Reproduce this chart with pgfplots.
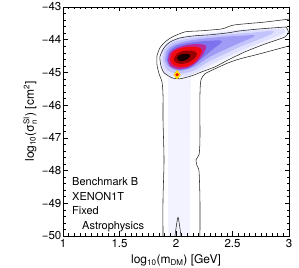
\documentclass[border=0pt]{standalone}
\usepackage{amsmath}
\usepackage{fontspec}
\setmainfont{TeX Gyre Heros}
\usepackage{pgfplots}
\pgfplotsset{compat=1.18}
\definecolor{c0}{RGB}{243,243,255}
\definecolor{c1}{RGB}{224,224,255}
\definecolor{c2}{RGB}{196,196,252}
\definecolor{c3}{RGB}{160,156,246}
\definecolor{c4}{RGB}{126,114,238}
\definecolor{c5}{RGB}{190,40,150}
\definecolor{c6}{RGB}{240,10,15}
\definecolor{c7}{RGB}{150,0,0}
\definecolor{c8}{RGB}{25,0,0}
\begin{document}
\begin{tikzpicture}
\begin{axis}[name=ax, scale only axis, width=226pt, height=229pt,
  xmin=1, xmax=3, ymin=-50, ymax=-43, axis on top,
  xtick={1,1.5,2,2.5,3}, xticklabels={1,1.5,2,2.5,3},
  ytick={-50,-49,-48,-47,-46,-45,-44,-43},
  yticklabels={−50,−49,−48,−47,−46,−45,−44,−43},
  minor x tick num=9, minor y tick num=4,
  tick align=inside, major tick length=4.5pt, minor tick length=2.5pt,
  tick style={black, line width=0.5pt},
  axis line style={line width=0.6pt},
  ticklabel style={font=\fontsize{11.5}{13}\selectfont},
  yticklabel style={inner sep=1.5pt},
  label style={font=\fontsize{12}{14}\selectfont},
  xlabel={log$_{\text{10}}$(m$_{\text{DM}}$) [GeV]},
  ylabel={log$_{\text{10}}$(σ$^{\text{SI}}_{\text{n}}$) [cm$^{\text{2}}$]},
]
% density layers
\addplot[draw=none, fill=c0, smooth, tension=0.4] coordinates {
(1.929,-50) (1.929,-45.29) (1.894,-45.13) (1.858,-44.68) (1.867,-44.31) (1.929,-44.04) (2.080,-43.88) (2.389,-43.73) (2.743,-43.64) (2.956,-43.61) (2.991,-43.73) (2.965,-43.915) (2.743,-44.19) (2.434,-44.62) (2.212,-45.01) (2.133,-45.23) (2.124,-50)} -- cycle;
\addplot[draw=none, fill=c1, smooth, tension=0.5] coordinates {
(1.867,-44.62) (1.885,-44.28) (1.947,-44.07) (2.080,-43.915) (2.389,-43.79) (2.743,-43.70) (2.938,-43.67) (2.965,-43.76) (2.903,-43.88) (2.611,-44.28) (2.319,-44.74) (2.159,-45.04) (2.018,-45.13) (1.903,-45.01) (1.867,-44.62)} -- cycle;
\addplot[draw=none, fill=c2, smooth, tension=0.5] coordinates {
(1.885,-44.62) (1.903,-44.31) (1.965,-44.10) (2.088,-43.98) (2.319,-43.88) (2.655,-43.79) (2.850,-43.73) (2.832,-43.85) (2.566,-44.22) (2.301,-44.65) (2.150,-44.95) (2.018,-45.04) (1.920,-44.92) (1.885,-44.62)} -- cycle;
\addplot[draw=none, fill=c3, smooth, tension=0.5] coordinates {
(1.903,-44.62) (1.920,-44.34) (1.982,-44.16) (2.097,-44.04) (2.301,-43.945) (2.566,-43.88) (2.699,-43.88) (2.522,-44.16) (2.301,-44.52) (2.159,-44.83) (2.027,-44.95) (1.938,-44.83) (1.903,-44.62)} -- cycle;
\addplot[draw=none, fill=c4, smooth, tension=0.5] coordinates {
(1.920,-44.62) (1.938,-44.37) (2.000,-44.19) (2.106,-44.10) (2.257,-44.04) (2.407,-44.04) (2.319,-44.31) (2.212,-44.62) (2.124,-44.86) (2.018,-44.92) (1.947,-44.80) (1.920,-44.62)} -- cycle;
\addplot[draw=none, fill=c5, smooth, tension=0.5] coordinates {
(1.929,-44.62) (1.947,-44.40) (2.009,-44.25) (2.097,-44.16) (2.204,-44.13) (2.265,-44.19) (2.248,-44.40) (2.186,-44.68) (2.097,-44.86) (2.009,-44.89) (1.947,-44.80) (1.929,-44.62)} -- cycle;
\addplot[draw=none, fill=c6, smooth, tension=0.5] coordinates {
(1.947,-44.62) (1.965,-44.40) (2.018,-44.28) (2.097,-44.22) (2.186,-44.22) (2.230,-44.31) (2.212,-44.49) (2.159,-44.71) (2.088,-44.83) (2.009,-44.83) (1.965,-44.74) (1.947,-44.62)} -- cycle;
\addplot[draw=none, fill=c7, smooth, tension=0.5] coordinates {
(1.982,-44.585) (2.009,-44.43) (2.071,-44.34) (2.150,-44.34) (2.186,-44.43) (2.159,-44.585) (2.097,-44.71) (2.035,-44.74) (1.991,-44.68) (1.982,-44.585)} -- cycle;
\addplot[draw=none, fill=c8, smooth, tension=0.5] coordinates {
(2.009,-44.555) (2.035,-44.46) (2.088,-44.43) (2.124,-44.46) (2.115,-44.555) (2.071,-44.646) (2.027,-44.646) (2.009,-44.555)} -- cycle;
% contours
\addplot[black!85, line width=0.55pt, smooth, tension=0.4] coordinates {
(1.885,-50) (1.885,-48.88) (1.894,-47.67) (1.885,-46.45) (1.885,-45.68) (1.876,-45.29) (1.850,-45.04) (1.832,-44.77) (1.832,-44.49) (1.858,-44.25) (1.903,-44.07) (1.965,-43.92) (2.080,-43.76) (2.212,-43.73) (2.407,-43.67) (2.513,-43.55) (2.788,-43.46) (3.0,-43.37)};
\addplot[black!85, line width=0.55pt, smooth, tension=0.4] coordinates {
(3.0,-44.19) (2.743,-44.43) (2.566,-44.585) (2.460,-44.71) (2.345,-44.89) (2.257,-45.04) (2.221,-45.23) (2.212,-45.68) (2.212,-47.06) (2.204,-47.51) (2.177,-47.67) (2.186,-47.85) (2.204,-48.03) (2.212,-48.88) (2.212,-50)};
\addplot[black!85, line width=0.55pt, smooth, tension=0.4] coordinates {
(2.973,-43.61) (2.743,-43.67) (2.566,-43.73) (2.460,-43.79) (2.301,-43.85) (2.168,-43.88) (2.035,-43.945) (1.947,-44.07) (1.894,-44.25) (1.858,-44.52) (1.867,-44.80) (1.894,-45.01) (1.965,-45.165) (2.035,-45.195) (2.142,-45.10) (2.230,-44.98) (2.345,-44.83) (2.460,-44.62) (2.611,-44.37) (2.788,-44.13) (2.965,-43.915) (2.995,-43.76) (2.973,-43.61)} -- cycle;
\addplot[black!85, line width=0.55pt, smooth, tension=0.5] coordinates {
(1.991,-50) (2.004,-49.67) (2.018,-49.43) (2.031,-49.67) (2.044,-50)};
% best fit
\addplot[only marks, mark=diamond*, mark size=4.5pt, mark options={fill=yellow, draw=orange!60!yellow, line width=0.3pt}] coordinates {(2.01,-45.07)};
\addplot[only marks, mark=*, mark size=1.5pt, mark options={fill=red, draw=red}] coordinates {(2.01,-45.07)};
\node[anchor=north west, inner sep=0pt, align=left, font=\fontsize{11}{14.5}\selectfont] at (axis cs:1.08,-48.22) {Benchmark B\\XENON1T\\Fixed\\\hspace*{10pt}Astrophysics};
\end{axis}
\pgfresetboundingbox
\path[use as bounding box] ([shift={(-63pt,-32pt)}]ax.south west) rectangle ([shift={(10pt,7pt)}]ax.north east);
\end{tikzpicture}
\end{document}
